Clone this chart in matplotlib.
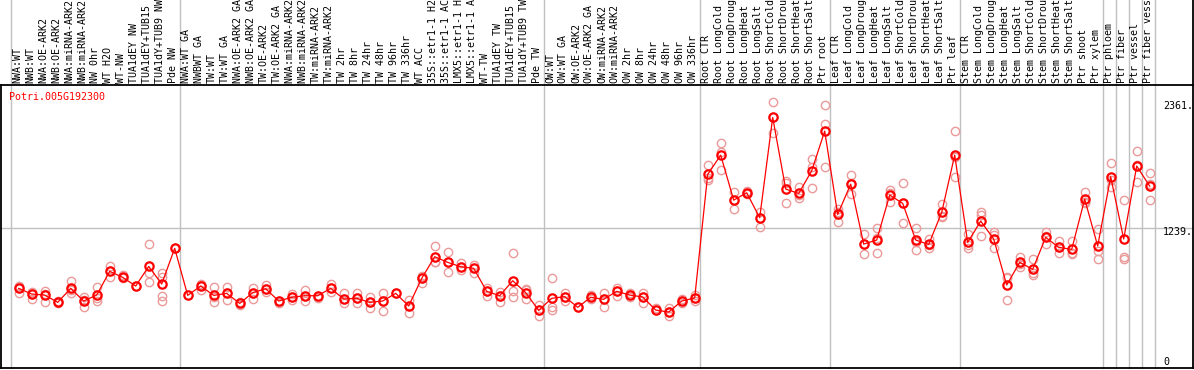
import numpy as np
import matplotlib
matplotlib.use('Agg')
import matplotlib.pyplot as plt
import matplotlib.transforms as mtransforms

# sample labels, in column order
group1 = ["NWA:WT", "NWB:WT", "NWA:OE-ARK2", "NWB:OE-ARK2", "NWA:miRNA-ARK2",
          "NWB:miRNA-ARK2", "NW 0hr", "WT H2O", "WT-NW", "TUA1dEY NW",
          "TUA1dEY+TUB15 NW", "TUA1dY+TUB9 NW", "Pde NW"]
group2 = ["NWA:WT GA", "NWBWT GA", "TW:WT", "TW:WT GA", "NWA:OE-ARK2 GA",
          "NWB:OE-ARK2 GA", "TW:OE-ARK2", "TW:OE-ARK2 GA", "NWA:miRNA-ARK2 GA",
          "NWB:miRNA-ARK2 GA", "TW:miRNA-ARK2", "TW:miRNA-ARK2 GA", "TW 2hr",
          "TW 8hr", "TW 24hr", "TW 48hr", "TW 96hr", "TW 336hr", "WT ACC",
          "35S::etr1-1 H2O", "35S::etr1-1 ACC", "LMX5::etr1-1 H2O",
          "LMX5::etr1-1 ACC", "WT-TW", "TUA1dEY TW", "TUA1dEY+TUB15 TW",
          "TUA1dY+TUB9 TW", "Pde TW"]
group3 = ["OW:WT", "OW:WT GA", "OW:OE-ARK2", "OW:OE-ARK2 GA", "OW:miRNA-ARK2",
          "OW:miRNA-ARK2 GA", "OW 2hr", "OW 8hr", "OW 24hr", "OW 48hr",
          "OW 96hr", "OW 336hr"]
stress = ["CTR", "LongCold", "LongDrought", "LongHeat", "LongSalt",
          "ShortCold", "ShortDrought", "ShortHeat", "ShortSalt"]
group4 = ["Root " + s for s in stress] + ["Ptr root"]
group5 = ["Leaf " + s for s in stress] + ["Ptr leaf"]
group6 = ["Stem " + s for s in stress] + ["Ptr shoot", "Ptr xylem"]
singles = ["Ptr phloem", "Ptr fiber", "Ptr vessel", "Ptr fiber vessel"]
labels = group1 + group2 + group3 + group4 + group5 + group6 + singles

# column boundaries where the grey separators are drawn
separators = [0, 13, 41, 53, 63, 73, 84, 85, 86, 87, 88]

gene = "Potri.005G192300"
tick_vals = [2361, 1239, 0]
tick_text = ["2361.", "1239.", "0"]

means = [706, 656, 647, 582, 706, 594, 647, 857, 804, 727, 901, 745, 1061,
         644, 727, 644, 662, 573, 668, 703, 594, 627, 641, 641, 706, 612, 618,
         582, 594, 662, 550, 795, 987, 937, 898, 884, 680, 641, 774, 668, 511,
         618, 633, 538, 627, 609, 680, 647, 630, 514, 496, 594, 621,
         1717, 1888, 1489, 1554, 1333, 2222, 1587, 1548, 1749, 2101,
         1362, 1631, 1099, 1135, 1534, 1460, 1135, 1096, 1380, 1888,
         1114, 1303, 1144, 736, 937, 875, 1159, 1070, 1052, 1498, 1082,
         1696, 1144, 1791, 1613]

reps = [[727, 706, 662], [676, 656, 615], [683, 660, 582], [590, 575],
        [771, 690, 668], [633, 600, 542], [721, 618, 594], [904, 862, 804],
        [824, 795], [727], [1097, 839, 765], [845, 809, 638, 597], [1061],
        [644], [745, 692, 740], [715, 630, 588], [721, 662, 603], [585, 559],
        [709, 668, 609], [736, 703, 674], [594, 580], [653, 627, 600],
        [692, 641, 597], [641, 618], [742, 706, 677], [662, 612, 574],
        [662, 618, 577], [633, 582, 529], [662, 594, 506], [662],
        [603, 550, 491], [818, 795, 757], [1082, 937, 942], [1031, 937, 854],
        [928, 898, 870], [913, 884, 845], [712, 680, 641], [671, 641, 588],
        [1022, 683, 627], [703, 690, 609], [559, 511, 465],
        [795, 538, 514], [668, 633, 597], [538], [647, 627, 610],
        [668, 609, 538], [712, 680, 641], [662, 647, 633], [668, 630, 574],
        [514, 529], [529, 496, 465], [609, 594, 577], [647, 621, 595],
        [1800, 1682, 1667], [1997, 1918, 1755], [1563, 1489, 1407],
        [1572, 1548, 1540], [1386, 1333, 1253], [2361, 2222, 2080],
        [1658, 1640, 1466], [1608, 1530, 1504], [1853, 1785, 1593],
        [2330, 2160, 1779],
        [1409, 1380, 1297], [1711, 1640, 1540], [1185, 1099, 1011],
        [1238, 1150, 1017], [1578, 1550, 1474], [1637, 1460, 1283],
        [1238, 1120, 1046], [1140, 1087, 1061], [1451, 1348, 1341],
        [2101, 1873, 1690],
        [1188, 1093, 1061], [1386, 1353, 1170], [1209, 1179, 1061],
        [804, 800, 603], [987, 926, 898], [964, 839, 822], [1209, 1170, 1099],
        [1123, 1070, 1017], [1126, 1023, 1007], [1557, 1470, 1466],
        [1232, 1040, 964],
        [1815, 1670, 1602], [1489, 987, 964], [1924, 1800, 1649],
        [1726, 1631, 1489]]

#%% layout (pixels)
W, H = 1194, 370
left, right, top, bottom = 1, 1193, 85, 368
col0, colw = 10.7, 13.0
ymax = 1239 * (bottom - top) / (bottom - 228.3)
mono = 'DejaVu Sans Mono'
fs = 7.2

fig = plt.figure(figsize=(W / 100, H / 100), dpi=100)
ax = fig.add_axes([left / W, (H - bottom) / H, (right - left) / W, (bottom - top) / H])
ax.set_xlim((left - col0) / colw, (right - col0) / colw)
ax.set_ylim(0, ymax)
ax.set_xticks([])
ax.set_yticks([])
for s in ax.spines.values():
    s.set_color('black')
    s.set_linewidth(1.3)

trans = mtransforms.blended_transform_factory(ax.transData, ax.transAxes)
ytop = bottom / (bottom - top)

# grey separators run through the label band too
for b in separators:
    ax.plot([b, b], [0, ytop], transform=trans, color='#c0c0c0', lw=1.0,
            clip_on=False, zorder=0)
ax.plot([1, 1], [1, ytop], transform=ax.transAxes, color='black', lw=1.3,
        clip_on=False)
ax.axhline(1239, color='#c0c0c0', lw=1.0, zorder=0)
ax.plot([1, 1.01], [1239, 1239], transform=mtransforms.blended_transform_factory(ax.transAxes, ax.transData),
        color='#c0c0c0', lw=1.0, clip_on=False)

x = np.arange(len(means)) + 8 / 13
for i, r in enumerate(reps):
    ax.plot([x[i]] * len(r), r, 'o', ms=6, mfc='none', mec='#eb9a9a', mew=1.0,
            zorder=2)
ax.plot(x, means, '-', color='red', lw=0.9, zorder=3)
ax.plot(x, means, 'o', ms=6, mfc='none', mec='red', mew=1.6, zorder=4)

for i, lab in enumerate(labels):
    ax.text(i + 0.5, 1 + 2 / (bottom - top), lab, rotation=90, ha='center',
            va='bottom', transform=trans, fontsize=fs, family=mono,
            clip_on=False)

fig.text(9 / W, 1 - 97 / H, gene, color='red', ha='left', va='center',
         fontsize=fs, family=mono)

for v, t in zip(tick_vals, tick_text):
    ypix = bottom - v * (bottom - top) / ymax
    if v == 0:
        ypix = 362
    else:
        ypix += 4
    fig.text(1163 / W, 1 - ypix / H, t, ha='left', va='center',
             fontsize=fs, family=mono)

fig.savefig('out.png', dpi=100)
